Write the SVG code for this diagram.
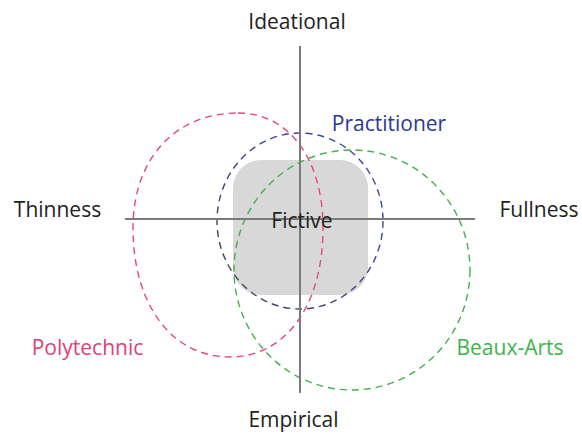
<svg xmlns="http://www.w3.org/2000/svg" width="582" height="435" viewBox="0 0 582 435">
<defs>
<style>
text{font-family:"Open Sans","Noto Sans",sans-serif;font-size:21px;fill:#222;text-anchor:middle}
.axis{stroke:#7a7a7a;stroke-width:2;fill:none}
.loop{fill:none;stroke-width:1.4;stroke-dasharray:7 5}
</style>
<linearGradient id="pg" x1="1" y1="0" x2="0" y2="1">
<stop offset="0" stop-color="#3a48a0"/>
<stop offset="0.5" stop-color="#3d4490"/>
<stop offset="1" stop-color="#444"/>
</linearGradient>
</defs>
<rect width="582" height="435" fill="#fff"/>
<g id="fictive">
<rect x="233" y="160" width="135" height="135" rx="28" fill="#d8d8d8"/>
</g>
<g id="polytechnic">
<path class="loop" stroke="#e8457a" d="M238,113 C289,113 323,159 323,228 C323,305 286,357 230,357 C172,357 133,305 133,228 C133,159 175,113 238,113Z"/>
<text x="87.5" y="355" style="fill:#e0407a">Polytechnic</text>
</g>
<g id="practitioner">
<ellipse class="loop" stroke="url(#pg)" cx="300" cy="221" rx="83" ry="88"/>
<text x="389" y="131" style="fill:#2b3990">Practitioner</text>
</g>
<g id="beaux-arts">
<ellipse class="loop" stroke="#45b04f" cx="352" cy="270" rx="118" ry="120"/>
<text x="510" y="355" style="fill:#3cb44a">Beaux-Arts</text>
</g>
<g id="connectors">
<line class="axis" x1="300" y1="46" x2="300" y2="393"/>
<line class="axis" x1="125" y1="219" x2="475" y2="219"/>
</g>
<g id="labels">
<text x="297" y="29">Ideational</text>
<text x="57.5" y="217">Thinness</text>
<text x="539" y="217">Fullness</text>
<text x="293.5" y="427">Empirical</text>
<text x="302" y="228">Fictive</text>
</g>
</svg>
